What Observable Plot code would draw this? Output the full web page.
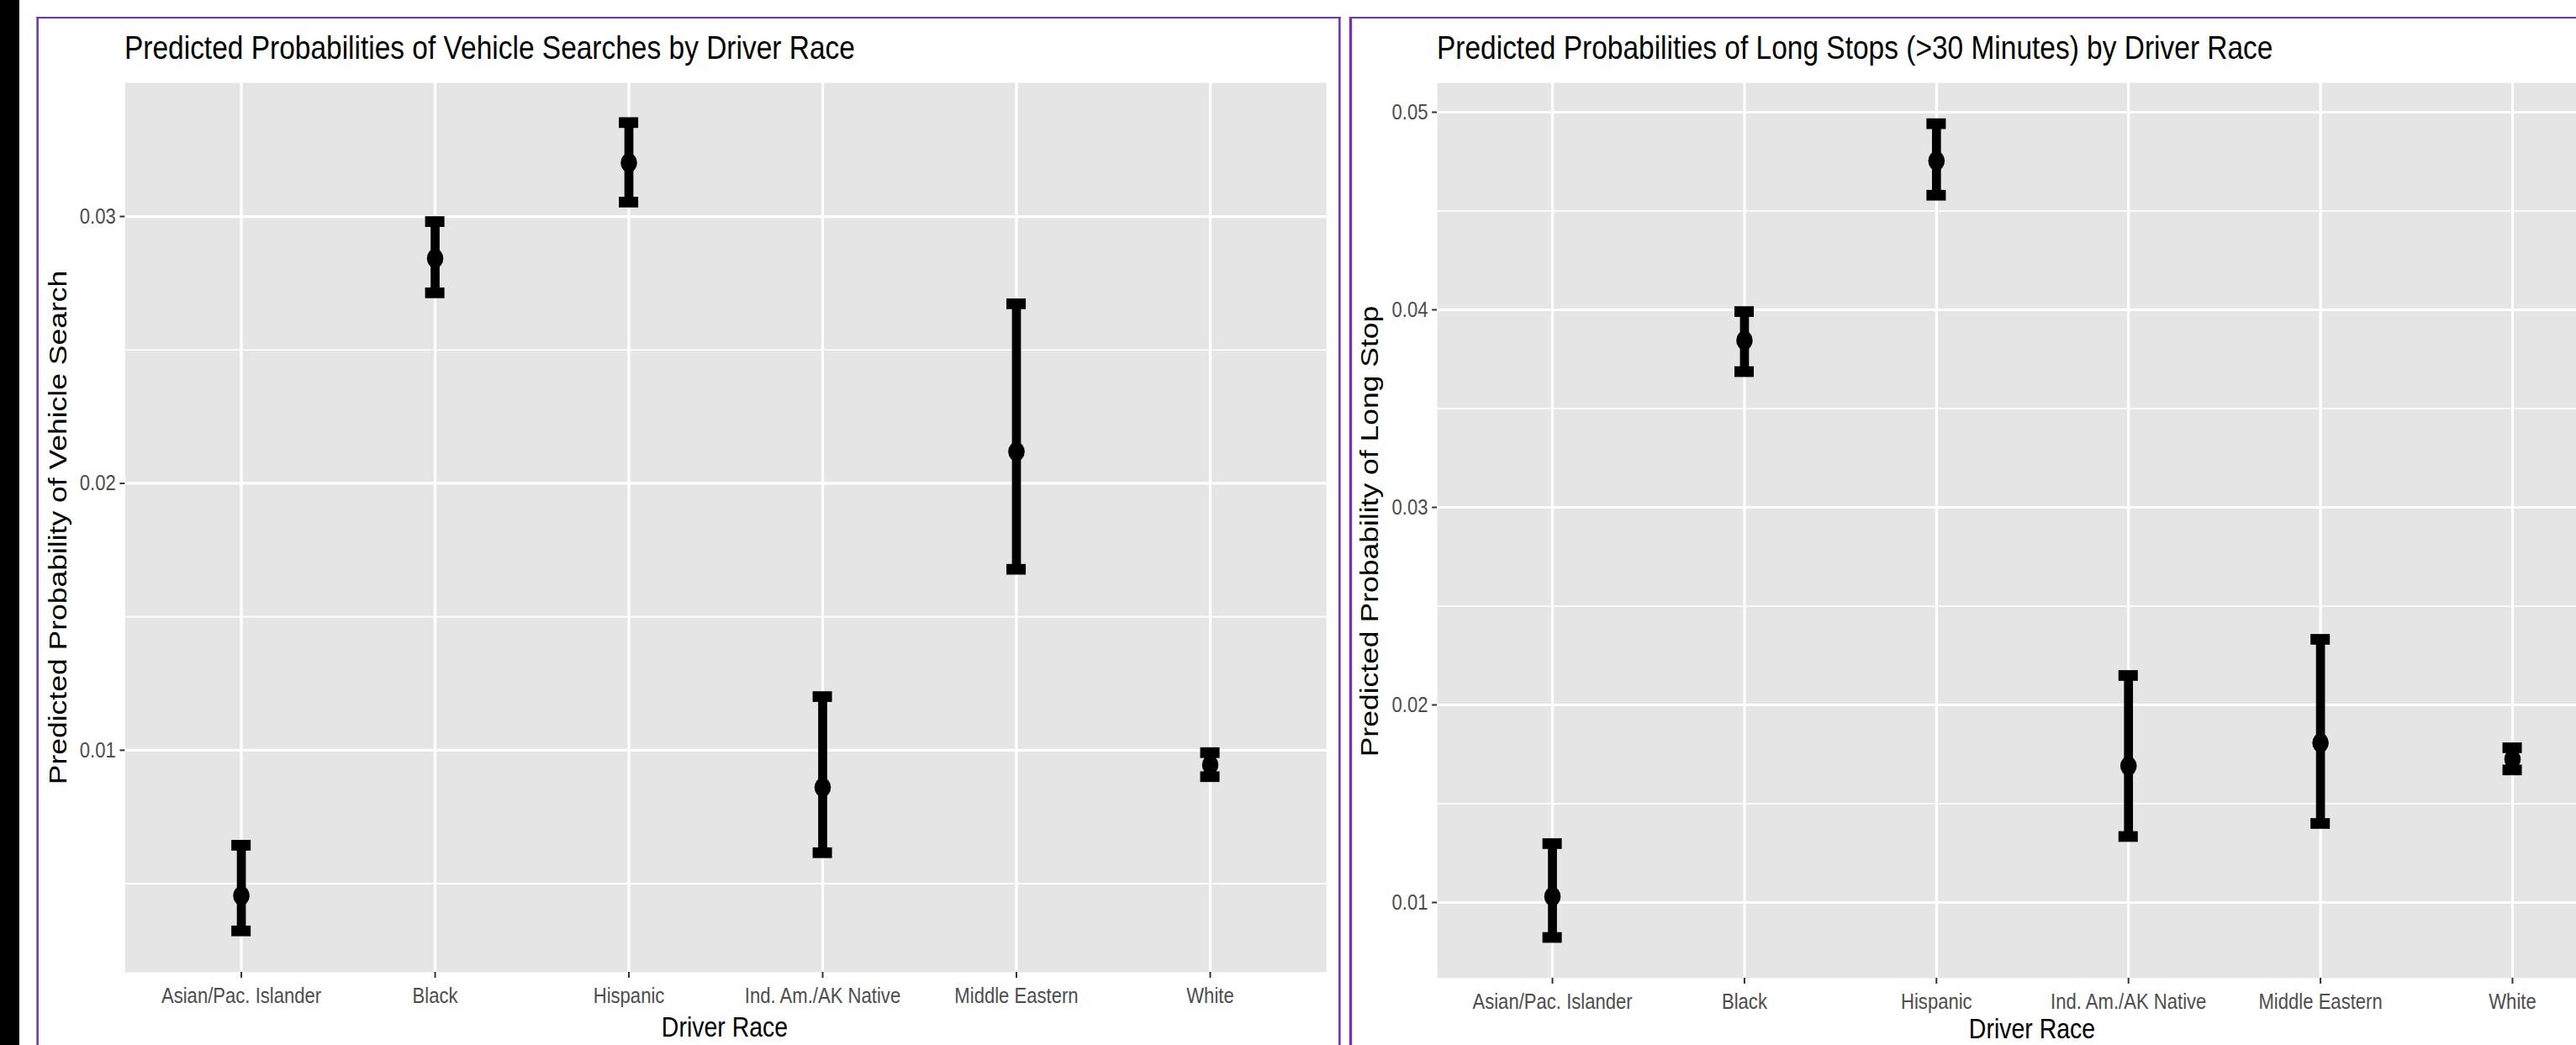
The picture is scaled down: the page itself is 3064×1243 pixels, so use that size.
<!DOCTYPE html>
<html>
<head>
<meta charset="utf-8">
<script src="https://cdn.jsdelivr.net/npm/d3@7"></script>
<script src="https://cdn.jsdelivr.net/npm/@observablehq/plot@0.6"></script>
<style>
html, body { margin: 0; padding: 0; background: #ffffff; width: 3064px; height: 1243px; overflow: hidden; }
#stage { position: absolute; left: 0; top: 0; height: 1243px; transform-origin: 0 0; }
</style>
</head>
<body>
<div id="stage"></div>
<script>
// ---------- data ----------
const races = ["Asian/Pac. Islander", "Black", "Hispanic", "Ind. Am./AK Native", "Middle Eastern", "White"];

const searchEst = [0.00455, 0.02843, 0.03201, 0.00861, 0.02119, 0.00945];
const searchLo  = [0.00323, 0.02714, 0.03054, 0.00616, 0.01678, 0.00901];
const searchHi  = [0.00644, 0.02981, 0.03352, 0.01201, 0.02673, 0.00991];

const longEst = [0.0103, 0.03845, 0.04754, 0.01691, 0.01808, 0.01725];
const longLo  = [0.00823, 0.03687, 0.0458, 0.01334, 0.0140, 0.01671];
const longHi  = [0.01298, 0.03991, 0.04942, 0.02149, 0.02332, 0.01783];

const searchTicks = [0.01, 0.02, 0.03];
const searchMinor = [0.005, 0.015, 0.025];
const longTicks = [0.01, 0.02, 0.03, 0.04, 0.05];
const longMinor = [0.015, 0.025, 0.035, 0.045];

const searchTitle = "Predicted Probabilities of Vehicle Searches by Driver Race";
const longTitle = "Predicted Probabilities of Long Stops (>30 Minutes) by Driver Race";
const searchYLabel = "Predicted Probability of Vehicle Search";
const longYLabel = "Predicted Probability of Long Stop";
const xLabel = "Driver Race";

// ---------- layout ----------
const K = 0.85;               // horizontal squeeze of the reference picture
const FONT = '"Liberation Sans", Arial, Helvetica, sans-serif';
const PURPLE = "#7434AC";
const px = v => v / K;

const stage = document.getElementById("stage");
stage.style.width = px(3064) + "px";
stage.style.transform = `scaleX(${K})`;

function addDiv(style) {
  const d = document.createElement("div");
  Object.assign(d.style, { position: "absolute" }, style);
  stage.appendChild(d);
  return d;
}

// black strip at the far left
addDiv({ left: "0px", top: "0px", width: px(23) + "px", height: "1243px", background: "#000" });
// panel borders
addDiv({ left: px(43) + "px", top: "20px", width: px(1595 - 43) + "px", height: "1400px", boxSizing: "border-box",
  borderTop: "2px solid " + PURPLE, borderLeft: px(3) + "px solid " + PURPLE, borderRight: px(3) + "px solid " + PURPLE });
addDiv({ left: px(1604.5) + "px", top: "20px", width: px(1700) + "px", height: "1400px", boxSizing: "border-box",
  borderTop: "2px solid " + PURPLE, borderLeft: px(3.5) + "px solid " + PURPLE });

function makeTable(est, lo, hi) {
  return races.map((race, i) => ({ race, est: est[i], lo: lo[i], hi: hi[i] }));
}

function drawPanel({ data, ticks, minor, domain, left, right, panelLeft, panelRight, panelBottom }) {
  const top = 22;
  const height = 1243 - top;
  const width = px(right - left);
  const mL = px(panelLeft - left), mR = px(right - panelRight);
  const mT = 98 - top, mB = 1243 - panelBottom;
  const step = (width - mL - mR) / 6.2;
  const capInset = (step - px(23)) / 2;
  const capStyle = { stroke: "black", strokeWidth: 12.7, insetLeft: capInset, insetRight: capInset };
  const svg = Plot.plot({
    width, height,
    marginLeft: mL, marginRight: mR, marginTop: mT, marginBottom: mB,
    style: { background: "transparent", maxWidth: "none", overflow: "visible", fontFamily: FONT },
    x: { type: "band", domain: races, paddingInner: 0, paddingOuter: 0.1, round: false, label: null },
    y: { domain, label: null },
    marks: [
      Plot.frame({ fill: "#E5E5E5", stroke: "none" }),
      Plot.gridY(minor, { stroke: "white", strokeOpacity: 1, strokeWidth: 1.7 }),
      Plot.gridY(ticks, { stroke: "white", strokeOpacity: 1, strokeWidth: 3.2 }),
      Plot.gridX({ stroke: "white", strokeOpacity: 1, strokeWidth: 3.8 }),
      Plot.ruleX(data, { x: "race", y1: "lo", y2: "hi", stroke: "black", strokeWidth: px(10.7) }),
      Plot.tickY(data, { x: "race", y: "hi", ...capStyle }),
      Plot.tickY(data, { x: "race", y: "lo", ...capStyle }),
      Plot.dot(data, { x: "race", y: "est", r: 11.5, fill: "black" }),
      Plot.axisY(ticks, { tickSize: 7, tickPadding: 6, fontSize: 26, fill: "#4D4D4D", stroke: "#333333",
        strokeWidth: 2, tickFormat: d3.format(".2f"), label: null }),
      Plot.axisX({ tickSize: 7, tickPadding: 11, fontSize: 26, fill: "#4D4D4D", stroke: "#333333",
        strokeWidth: px(2), label: null })
    ]
  });
  svg.style.position = "absolute";
  svg.style.left = px(left) + "px";
  svg.style.top = top + "px";
  stage.appendChild(svg);
}

drawPanel({
  data: makeTable(searchEst, searchLo, searchHi),
  ticks: searchTicks, minor: searchMinor, domain: [0.00168, 0.03501],
  left: 60, right: 1587, panelLeft: 148, panelRight: 1577, panelBottom: 1156
});
drawPanel({
  data: makeTable(longEst, longLo, longHi),
  ticks: longTicks, minor: longMinor, domain: [0.00617, 0.05149],
  left: 1620, right: 3135, panelLeft: 1709, panelRight: 3125, panelBottom: 1163
});

// ---------- titles and axis titles ----------
const NS = "http://www.w3.org/2000/svg";
const ov = document.createElementNS(NS, "svg");
ov.setAttribute("width", px(3064));
ov.setAttribute("height", 1243);
Object.assign(ov.style, { position: "absolute", left: "0px", top: "0px", overflow: "visible", pointerEvents: "none" });
stage.appendChild(ov);

function addText(str, { x, y, size, anchor = "start", rotate = false, fill = "#000" }) {
  const t = document.createElementNS(NS, "text");
  t.textContent = str;
  t.setAttribute("font-family", FONT);
  t.setAttribute("font-size", size);
  t.setAttribute("fill", fill);
  t.setAttribute("text-anchor", anchor);
  if (rotate) {
    t.setAttribute("transform", `translate(${x},${y}) rotate(-90)`);
  } else {
    t.setAttribute("x", x);
    t.setAttribute("y", y);
  }
  ov.appendChild(t);
}

addText(searchTitle, { x: px(148), y: 70, size: 39.4 });
addText(longTitle, { x: px(1709), y: 70.5, size: 39.4 });
addText(xLabel, { x: px(862), y: 1233, size: 33.5, anchor: "middle" });
addText(xLabel, { x: px(2417), y: 1235, size: 33.5, anchor: "middle" });
addText(searchYLabel, { x: px(79), y: 627.5, size: 35.5, anchor: "middle", rotate: true });
addText(longYLabel, { x: px(1639), y: 632, size: 35.5, anchor: "middle", rotate: true });
</script>
</body>
</html>
